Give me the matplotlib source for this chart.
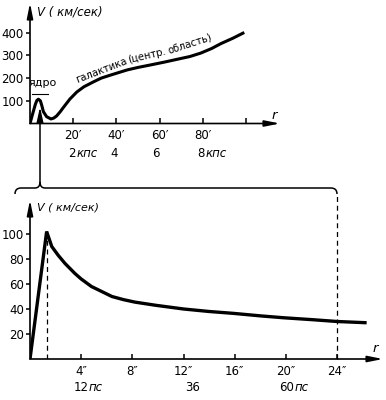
import matplotlib.pyplot as plt
from matplotlib.path import Path
from matplotlib.patches import PathPatch
from matplotlib import font_manager

names = {f.name for f in font_manager.fontManager.ttflist}
narrow = 'Liberation Sans Narrow' if 'Liberation Sans Narrow' in names else 'DejaVu Sans'
plt.rcParams['font.family'] = [narrow, 'DejaVu Sans']

# верхний график: галактика, r в минутах дуги, V в км/сек
r_top = [0, 1.5, 2.5, 3.2, 3.9, 4.8, 5.5, 6.2, 7.7, 9.7, 11, 12.3, 14, 15.4, 18.5, 21.7,
         25, 29.5, 33, 37.2, 45, 50, 55.8, 62, 68.2, 74, 79, 84, 88.4, 94, 99.2]
v_top = [0, 52, 85, 102, 107, 100, 78, 52, 30, 20, 24, 33, 52, 70, 108, 139,
         162, 184, 200, 213, 236, 247, 258, 270, 283, 295, 310, 330, 352, 376, 401]
top_xticks = [20, 40, 60, 80, 100]
top_xlabels = ['20′', '40′', '60′', '80′', '']
top_yticks = [100, 200, 300, 400]
top_kpc = [(17.6, '2', 'кпс'), (37.0, '4', ''), (56.5, '6', ''), (77.3, '8', 'кпс')]
galaxy_words = [(21.6, 178, 'галактика', 21), (45.6, 267, '(центр.', 13),
                (64.6, 309, 'область)', 18)]

# нижний график: ядро, r в секундах дуги
r_bot = [0, 1.3, 1.5, 1.7, 2.2, 2.73, 3.5, 4.0, 4.8, 5.6, 6.4, 7.3, 8.2, 9.8, 12, 14,
         15.9, 18, 19.8, 22, 24, 26.3]
v_bot = [0, 102, 96, 90, 83, 76.5, 68.5, 64, 58, 54, 50, 47.5, 45.5, 43, 40, 38,
         36.5, 34.5, 33, 31.5, 30, 29]
bot_xticks = [4, 8, 12, 16, 20, 24]
bot_xlabels = ['4″', '8″', '12″', '16″', '20″', '24″']
bot_yticks = [20, 40, 60, 80, 100]
bot_pc = [(3.45, '12', 'пс'), (12.1, '36', ''), (19.5, '60', 'пс')]
r_peak = 1.3
r_edge = 24

W, H = 386, 400
fig = plt.figure(figsize=(W / 100, H / 100), dpi=100)
FS = 8.5


def px_axes(x0, y0, x1, y1):
    return fig.add_axes([x0 / W, 1 - y1 / H, (x1 - x0) / W, (y1 - y0) / H])


def style_axes(ax, xlen, ylen):
    ax.set_facecolor('none')
    for s in ax.spines.values():
        s.set_visible(False)
    arrow = dict(arrowstyle='-|>,head_width=0.18,head_length=0.9', lw=1.2, color='k',
                 shrinkA=0, shrinkB=0)
    ax.annotate('', xy=(1, 0), xytext=(0, 0), xycoords='axes fraction', arrowprops=arrow)
    ax.annotate('', xy=(0, 1), xytext=(0, 0), xycoords='axes fraction', arrowprops=arrow)
    ax.tick_params(axis='x', direction='in', length=xlen, width=1.1, pad=4, labelsize=FS)
    ax.tick_params(axis='y', direction='out', length=ylen, width=1.1, pad=1.5, labelsize=FS)


# верхний
ax1 = px_axes(30, 3, 280, 123.5)
ax1.set_xlim(0, 250 / 2.16)
ax1.set_ylim(0, 120.5 / 0.227)
style_axes(ax1, 4.5, 3)
ax1.plot(r_top, v_top, color='k', lw=2.2, solid_capstyle='butt')
ax1.set_xticks(top_xticks, top_xlabels)
ax1.set_yticks(top_yticks)
for x, num, unit in top_kpc:
    ax1.text(x, -134, num, fontsize=FS, va='center', ha='left')
    if unit:
        ax1.text(x + 4.0, -134, unit, fontsize=FS, va='center', ha='left', style='italic')
ax1.text(3.2, 491, 'V ( км/сек)', fontsize=8.5, style='italic', va='center', ha='left')
ax1.text(113.2, 37, 'r', fontsize=9.5, style='italic', va='center', ha='center')
ax1.text(6.0, 180, 'ядро', fontsize=8, va='center', ha='center')
ax1.plot([0.9, 8.3], [130, 130], color='k', lw=0.8)
for x, y, word, ang in galaxy_words:
    ax1.text(x, y, word, fontsize=7.2, rotation=ang, va='baseline', ha='left',
             rotation_mode='anchor')

# нижний
ax2 = px_axes(30, 200, 383, 359)
ax2.set_xlim(0, 353 / 12.8)
ax2.set_ylim(0, 159 / 1.25)
style_axes(ax2, 3.5, 3)
ax2.plot(r_bot, v_bot, color='k', lw=2.4, solid_joinstyle='miter', solid_capstyle='butt')
ax2.plot([r_peak, r_peak], [0, 100], color='k', lw=0.9, ls=(0, (4, 3)))
ax2.plot([r_edge, r_edge], [0, 133], color='k', lw=0.9, ls=(0, (4, 3)), clip_on=False)
ax2.set_xticks(bot_xticks, bot_xlabels)
ax2.set_yticks(bot_yticks)
for x, num, unit in bot_pc:
    ax2.text(x, -23, num, fontsize=FS, va='center', ha='left')
    if unit:
        ax2.text(x + 1.15, -23, unit, fontsize=FS, va='center', ha='left', style='italic')
ax2.text(0.55, 121, 'V ( км/сек)', fontsize=8, style='italic', va='center', ha='left')
ax2.text(27.0, 8, 'r', fontsize=9.5, style='italic', va='center', ha='center')

# скобка и стрелка между графиками
ov = fig.add_axes([0, 0, 1, 1])
ov.set_xlim(0, W)
ov.set_ylim(H, 0)
ov.axis('off')
verts = [(15, 194), (15, 188), (21, 188),
         (35, 188),
         (40, 188), (40, 182),
         (40, 188), (45, 188),
         (331, 188),
         (337, 188), (337, 194)]
codes = [Path.MOVETO, Path.CURVE3, Path.CURVE3,
         Path.LINETO,
         Path.CURVE3, Path.CURVE3,
         Path.CURVE3, Path.CURVE3,
         Path.LINETO,
         Path.CURVE3, Path.CURVE3]
ov.add_patch(PathPatch(Path(verts, codes), fill=False, lw=1.1, color='k'))
ov.annotate('', xy=(40, 107), xytext=(40, 182),
            arrowprops=dict(arrowstyle='-|>,head_width=0.2,head_length=0.9', lw=1.1,
                            color='k', shrinkA=0, shrinkB=0))

fig.savefig('out.png', dpi=100)
